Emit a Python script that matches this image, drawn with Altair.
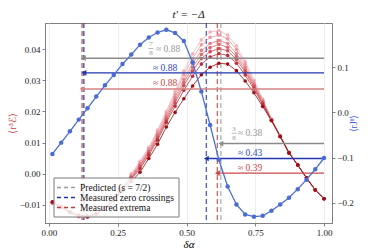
import altair as alt
import pandas as pd

FONT = "Liberation Serif"

# ---- data -------------------------------------------------------------
delta_alpha = [0.0125, 0.0444, 0.0762, 0.1081, 0.1399, 0.1718, 0.2036, 0.2355,
               0.2673, 0.2992, 0.3310, 0.3629, 0.3948, 0.4266, 0.4585, 0.4903,
               0.5222, 0.5540, 0.5859, 0.6177, 0.6496, 0.6815, 0.7133, 0.7452,
               0.7770, 0.8089, 0.8407, 0.8726, 0.9044, 0.9363, 0.9681, 1.0000]

rJ_theta = [-0.092, -0.067, -0.042, -0.016, 0.009, 0.035, 0.060, 0.083,
            0.107, 0.128, 0.150, 0.166, 0.177, 0.183, 0.176, 0.158,
            0.111, 0.046, -0.028, -0.105, -0.164, -0.204, -0.226, -0.231,
            -0.229, -0.218, -0.204, -0.189, -0.170, -0.149, -0.126, -0.101]

# r^3 E series, lightest (first) to darkest (last)
E7 = [-0.0095, -0.0110, -0.0127, -0.0138, -0.0140, -0.0130, -0.0108, -0.0078, -0.0042, 0.0000, 0.0040, 0.0085, 0.0140, 0.0200, 0.0265, 0.0330, 0.0385, 0.0430, 0.0455, 0.0460, 0.0445, 0.0410, 0.0360, 0.0300, 0.0240, 0.0175, 0.0121, 0.0068, 0.0028, -0.0013, -0.0052, -0.0080]
E6 = [-0.0094, -0.0109, -0.0126, -0.0137, -0.0140, -0.0130, -0.0108, -0.0079, -0.0044, -0.0004, 0.0035, 0.0080, 0.0134, 0.0193, 0.0256, 0.0318, 0.0370, 0.0414, 0.0438, 0.0445, 0.0433, 0.0399, 0.0352, 0.0295, 0.0237, 0.0175, 0.0121, 0.0068, 0.0028, -0.0013, -0.0052, -0.0080]
E5 = [-0.0093, -0.0108, -0.0126, -0.0137, -0.0139, -0.0130, -0.0108, -0.0080, -0.0046, -0.0008, 0.0031, 0.0075, 0.0127, 0.0185, 0.0246, 0.0303, 0.0354, 0.0396, 0.0418, 0.0428, 0.0418, 0.0386, 0.0342, 0.0288, 0.0233, 0.0174, 0.0121, 0.0068, 0.0028, -0.0013, -0.0052, -0.0080]
E4 = [-0.0093, -0.0108, -0.0125, -0.0136, -0.0139, -0.0129, -0.0109, -0.0081, -0.0048, -0.0011, 0.0027, 0.0071, 0.0121, 0.0178, 0.0237, 0.0293, 0.0342, 0.0383, 0.0405, 0.0415, 0.0406, 0.0376, 0.0334, 0.0284, 0.0230, 0.0173, 0.0121, 0.0068, 0.0028, -0.0013, -0.0052, -0.0080]
E3 = [-0.0092, -0.0107, -0.0124, -0.0135, -0.0138, -0.0129, -0.0109, -0.0082, -0.0049, -0.0014, 0.0022, 0.0066, 0.0115, 0.0172, 0.0228, 0.0283, 0.0330, 0.0370, 0.0392, 0.0402, 0.0395, 0.0367, 0.0327, 0.0279, 0.0227, 0.0172, 0.0120, 0.0067, 0.0028, -0.0013, -0.0052, -0.0080]
E2 = [-0.0091, -0.0106, -0.0123, -0.0134, -0.0137, -0.0128, -0.0109, -0.0083, -0.0051, -0.0018, 0.0016, 0.0060, 0.0108, 0.0165, 0.0217, 0.0268, 0.0313, 0.0352, 0.0375, 0.0386, 0.0380, 0.0355, 0.0317, 0.0272, 0.0223, 0.0172, 0.0120, 0.0067, 0.0028, -0.0013, -0.0052, -0.0080]
E1 = [-0.0090, -0.0105, -0.0122, -0.0133, -0.0136, -0.0128, -0.0110, -0.0085, -0.0055, -0.0025, 0.0005, 0.0049, 0.0095, 0.0150, 0.0197, 0.0241, 0.0282, 0.0318, 0.0342, 0.0355, 0.0352, 0.0331, 0.0298, 0.0260, 0.0216, 0.0170, 0.0119, 0.0067, 0.0028, -0.0013, -0.0052, -0.0080]
E_series = [E7, E6, E5, E4, E3, E2, E1]
E_colors = ["#f4b3bb", "#ec9aa2", "#e2838a", "#d86a71", "#cb4f55", "#b8303a", "#9e0d14"]

kinds = ["Predicted (s = 7/2)", "Measured zero crossings", "Measured extrema"]
kind_colors = ["#9a9a9a", "#2236b0", "#c83a3a"]
vline_x = [0.125, 0.625, 0.127, 0.572, 0.120, 0.612]
vline_kind = [kinds[0], kinds[0], kinds[1], kinds[1], kinds[2], kinds[2]]

arrow_y = [0.0371, 0.0324, 0.0272, 0.0097, 0.0049, 0.0002]
arrow_end = [0.125, 0.127, 0.120, 0.625, 0.572, 0.612]
arrow_start = [1.0, 1.0, 1.0, 1.0, 1.0, 1.0]
arrow_col = ["#8a8a8a", "#2236b0", "#d68282", "#8a8a8a", "#2236b0", "#cc4a4a"]

lab_text = ["≈ 0.88", "≈ 0.88", "≈ 0.88", "≈ 0.38", "≈ 0.43", "≈ 0.39"]
lab_x = [0.389, 0.378, 0.378, 0.687, 0.687, 0.687]
lab_y = [0.0402, 0.0341, 0.0291, 0.0130, 0.0066, 0.0020]
lab_col = ["#999999", "#3048c0", "#c84848", "#999999", "#3048c0", "#c84848"]

frac_text = ["7", "8", "3", "8"]
frac_x = [0.371, 0.371, 0.673, 0.673]
frac_y = [0.0416, 0.0388, 0.0144, 0.0116]
bar_x = [0.362, 0.664]
bar_x2 = [0.380, 0.682]
bar_y = [0.0402, 0.0130]

# ---- frames -----------------------------------------------------------
red_rows = []
for i, (ser, col) in enumerate(zip(E_series, E_colors)):
    for xv, yv in zip(delta_alpha, ser):
        red_rows.append({"x": xv, "E": yv, "s": i, "col": col})
red_df = pd.DataFrame(red_rows)
blue_df = pd.DataFrame({"x": delta_alpha, "J": rJ_theta})
vl_df = pd.DataFrame({"x": vline_x, "kind": vline_kind})
ar_df = pd.DataFrame({"x": arrow_start, "x2": arrow_end, "y": arrow_y, "col": arrow_col})
lab_df = pd.DataFrame({"x": lab_x, "y": lab_y, "t": lab_text, "col": lab_col})
fr_df = pd.DataFrame({"x": frac_x, "y": frac_y, "t": frac_text})
bar_df = pd.DataFrame({"x": bar_x, "x2": bar_x2, "y": bar_y})

# legend (pixel layout inside the plot area)
leg_df = pd.DataFrame({"t": kinds, "col": kind_colors,
                       "py": [164.5, 174.5, 184.5]})
leg_box = pd.DataFrame({"a": [0]})

# ---- scales / axes ----------------------------------------------------
xscale = alt.Scale(domain=[-0.0145, 1.029], nice=False, zero=False)
xaxis = alt.Axis(values=[0, 0.25, 0.5, 0.75, 1.0], format=".2f", title="δα",
                 grid=True, gridColor="#ededed", titleFontStyle="italic",
                 titleFontSize=11, titlePadding=1)
ylscale = alt.Scale(domain=[-0.0158, 0.0484], nice=False, zero=False)
ylaxis = alt.Axis(values=[-0.01, 0, 0.01, 0.02, 0.03, 0.04], format=".2f",
                  title="⟨r³ℰ⟩", titleColor="#c43c3c", grid=False, titleFontSize=10,
                  titlePadding=2)
yrscale = alt.Scale(domain=[-0.245, 0.198], nice=False, zero=False)
yraxis = alt.Axis(values=[-0.2, -0.1, 0, 0.1], format=".1f", orient="right",
                  title="⟨rJᶿ⟩", titleColor="#3b5bd0", grid=False, titleAngle=270,
                  titleFontSize=10, titlePadding=5)

X = lambda f="x": alt.X(f"{f}:Q", scale=xscale, axis=xaxis)
YL = lambda f: alt.Y(f"{f}:Q", scale=ylscale, axis=ylaxis)

vlines = alt.Chart(vl_df).mark_rule(strokeDash=[5, 3], strokeWidth=1.3, opacity=0.8).encode(
    x=X(),
    color=alt.Color("kind:N", scale=alt.Scale(domain=kinds, range=kind_colors), legend=None)
)

red_lines = alt.Chart(red_df).mark_line(strokeWidth=0.9, opacity=0.9).encode(
    x=X(), y=YL("E"), detail="s:N", color=alt.Color("col:N", scale=None),
    order="x:Q")
red_pts = alt.Chart(red_df).mark_circle(size=13, opacity=1).encode(
    x=X(), y=YL("E"), color=alt.Color("col:N", scale=None))

arrows = alt.Chart(ar_df).mark_rule(strokeWidth=1.4).encode(
    x=X(), x2="x2:Q", y=YL("y"), color=alt.Color("col:N", scale=None))
heads = alt.Chart(ar_df).mark_point(shape="triangle-left", filled=True, size=32, opacity=1).encode(
    x=alt.X("x2:Q", scale=xscale, axis=xaxis), y=YL("y"), color=alt.Color("col:N", scale=None))
labels = alt.Chart(lab_df).mark_text(align="left", baseline="middle", font=FONT, fontSize=9.5).encode(
    x=X(), y=YL("y"), text="t:N", color=alt.Color("col:N", scale=None))
fracs = alt.Chart(fr_df).mark_text(align="center", baseline="middle", font=FONT, fontSize=7,
                                   color="#999999").encode(
    x=X(), y=YL("y"), text="t:N")
bars = alt.Chart(bar_df).mark_rule(strokeWidth=0.7, color="#999999").encode(
    x=X(), x2="x2:Q", y=YL("y"))

box = alt.Chart(leg_box).mark_rect(fill="white", fillOpacity=0.85, stroke="#7a7a7a",
                                   strokeWidth=1).encode(
    x=alt.value(9), x2=alt.value(134), y=alt.value(155), y2=alt.value(194))
leg_lines = alt.Chart(leg_df).mark_rule(strokeDash=[4, 3], strokeWidth=1.5).encode(
    x=alt.value(12), x2=alt.value(32), y=alt.Y("py:Q", scale=None, axis=None),
    color=alt.Color("col:N", scale=None))
leg_text = alt.Chart(leg_df).mark_text(align="left", baseline="middle", font=FONT,
                                       fontSize=9.5, color="#111").encode(
    x=alt.value(35), y=alt.Y("py:Q", scale=None, axis=None), text="t:N")

left = alt.layer(vlines, red_lines, red_pts, arrows, heads, labels, fracs, bars).resolve_scale(
    color="independent")

blue_line = alt.Chart(blue_df).mark_line(strokeWidth=1.3, color="#4a6fd6").encode(
    x=X(), y=alt.Y("J:Q", scale=yrscale, axis=yraxis))
blue_pts = alt.Chart(blue_df).mark_circle(size=20, color="#4a6cd4", opacity=1).encode(
    x=X(), y=alt.Y("J:Q", scale=yrscale, axis=yraxis))
right = alt.layer(blue_line, blue_pts)

legend = alt.layer(box, leg_lines, leg_text)

chart = alt.layer(left, right, legend).resolve_scale(y="independent", color="independent").properties(
    width=287, height=200,
    title=alt.Title("t′ = −Δ", font=FONT, fontSize=11, fontStyle="italic",
                    fontWeight="normal", offset=2, anchor="middle", color="#111"),
    padding={"left": 37, "top": 15, "right": 34, "bottom": 26},
    autosize=alt.AutoSizeParams(type="none"),
).configure_view(stroke="#808080", strokeWidth=1).configure_axis(
    labelFont=FONT, labelFontSize=9, labelColor="#222", titleFont=FONT,
    titleFontWeight="normal", domainColor="#808080", tickColor="#808080",
    tickSize=3, labelPadding=2, domainWidth=1
)

chart.save("out.html", embed_options={"renderer": "svg", "actions": False})
